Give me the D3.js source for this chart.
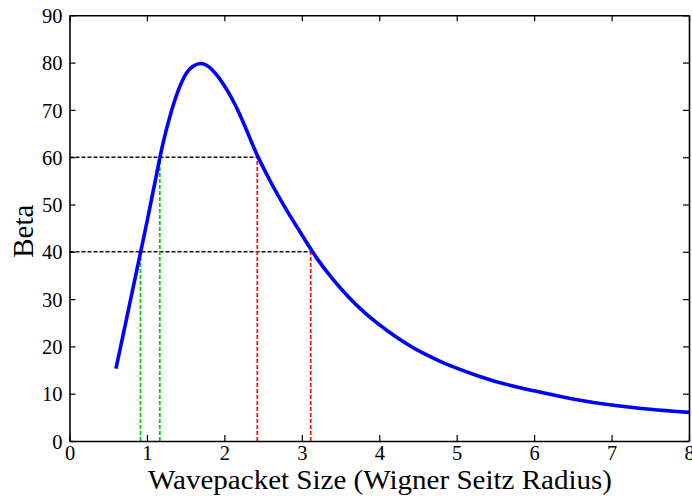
<!DOCTYPE html>
<html>
<head>
<meta charset="utf-8">
<script src="https://cdn.jsdelivr.net/npm/d3@7"></script>
<style>
  html, body { margin: 0; padding: 0; background: #fff; }
  svg { display: block; }
  text { font-family: "Liberation Serif", "Times New Roman", serif; fill: #000; }
</style>
</head>
<body>
<svg id="chart" width="692" height="498"></svg>
<script>
// ---- data ----
const sizeX = [0.6,0.7,0.8,0.9,1.0,1.1,1.2,1.3,1.4,1.5,1.6,1.7,1.8,1.9,2.0,2.1,2.2,2.3,2.4,2.6,2.8,3.0,3.2,3.4,3.6,3.8,4.0,4.2,4.4,4.6,4.8,5.0,5.25,5.5,6.0,6.5,7.0,7.5,8.0];
const betaY = [15.3,23.0,30.8,38.5,46.3,54.4,62.4,68.8,73.9,77.5,79.3,79.8,79.1,77.4,75.1,72.3,69.0,65.2,61.3,54.7,48.9,43.6,38.5,34.2,30.5,27.3,24.6,22.2,20.1,18.3,16.75,15.4,13.9,12.6,10.6,8.9,7.6,6.7,6.05];
const levels = [40, 60];
const risingX = [0.917, 1.166];   // green markers (x where curve rises through the level)
const fallingX = [3.115, 2.425];  // red markers for levels 40, 60
const xTicks = [0,1,2,3,4,5,6,7,8];
const yTicks = [0,10,20,30,40,50,60,70,80,90];
const xLabel = "Wavepacket Size (Wigner Seitz Radius)";
const yLabel = "Beta";

// ---- layout ----
const svg = d3.select("#chart");
const L = 69.5, R = 689, T = 15.3, B = 441;
const x = d3.scaleLinear().domain([0, 8]).range([L, R]);
const y = d3.scaleLinear().domain([0, 90]).range([B, T]);

// reference lines
const g = svg.append("g");
levels.forEach((lv, i) => {
  g.append("line")
    .attr("x1", x(0)).attr("x2", x(fallingX[i]))
    .attr("y1", y(lv)).attr("y2", y(lv))
    .attr("stroke", "#111").attr("stroke-width", 1.6).attr("stroke-dasharray", "4,2");
  g.append("line")
    .attr("x1", x(risingX[i])).attr("x2", x(risingX[i]))
    .attr("y1", y(0)).attr("y2", y(lv))
    .attr("stroke", "#11c411").attr("stroke-width", 1.8).attr("stroke-dasharray", "4,2");
  g.append("line")
    .attr("x1", x(fallingX[i])).attr("x2", x(fallingX[i]))
    .attr("y1", y(0)).attr("y2", y(lv))
    .attr("stroke", "#ff1a1a").attr("stroke-width", 1.8).attr("stroke-dasharray", "4,2");
});

// curve
const pts = sizeX.map((d, i) => [d, betaY[i]]);
svg.append("path")
  .datum(pts)
  .attr("fill", "none")
  .attr("stroke", "#0000ff")
  .attr("stroke-width", 3.6)
  .attr("stroke-linejoin", "round")
  .attr("d", d3.line().x(d => x(d[0])).y(d => y(d[1])).curve(d3.curveMonotoneX));

// axes (ticks inward)
const tickLen = 6;
const axB = svg.append("g").attr("transform", `translate(0,${B})`)
  .call(d3.axisBottom(x).tickValues(xTicks).tickSizeInner(-tickLen).tickSizeOuter(0).tickPadding(9).tickFormat(d3.format("d")));
const axT = svg.append("g").attr("transform", `translate(0,${T})`)
  .call(d3.axisTop(x).tickValues(xTicks).tickSizeInner(-tickLen).tickSizeOuter(0).tickFormat(""));
const axL = svg.append("g").attr("transform", `translate(${L},0)`)
  .call(d3.axisLeft(y).tickValues(yTicks).tickSizeInner(-tickLen).tickSizeOuter(0).tickPadding(7).tickFormat(d3.format("d")));
const axR = svg.append("g").attr("transform", `translate(${R},0)`)
  .call(d3.axisRight(y).tickValues(yTicks).tickSizeInner(-tickLen).tickSizeOuter(0).tickFormat(""));

[axB, axT, axL, axR].forEach(a => {
  a.selectAll(".domain").attr("stroke", "#000").attr("stroke-width", 1.6);
  a.selectAll(".tick line").attr("stroke", "#000").attr("stroke-width", 1.2);
  a.selectAll("text").attr("font-family", "Liberation Serif, serif").attr("font-size", 20.5).attr("fill", "#000");
});
axB.selectAll("text").attr("dy", "0.5em");
axL.selectAll("text").attr("dy", "0.35em");

// axis labels
svg.append("text")
  .attr("x", 148).attr("y", 488.5)
  .attr("font-size", 27)
  .attr("textLength", 464).attr("lengthAdjust", "spacingAndGlyphs")
  .text(xLabel);
svg.append("text")
  .attr("transform", `translate(33,${(T + B) / 2 + 3}) rotate(-90)`)
  .attr("text-anchor", "middle").attr("font-size", 29)
  .text(yLabel);
</script>
</body>
</html>
